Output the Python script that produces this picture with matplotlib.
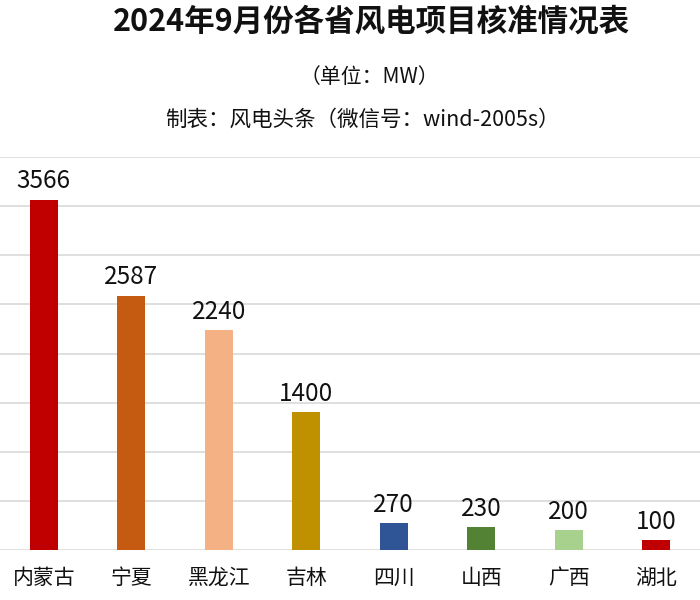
import matplotlib.pyplot as plt

plt.rcParams['font.family'] = ['Noto Sans CJK SC', 'DejaVu Sans']

provinces = ['内蒙古', '宁夏', '黑龙江', '吉林', '四川', '山西', '广西', '湖北']
capacity = [3566, 2587, 2240, 1400, 270, 230, 200, 100]
colors = ['#C00000', '#C55A11', '#F4B183', '#BF9000', '#2F5597', '#548235', '#A9D18E', '#C00000']

fig = plt.figure(figsize=(7, 6), dpi=100)
ax = fig.add_axes([0, 1 - 550 / 600, 1, (550 - 157) / 600])

x = range(len(provinces))
bars = ax.bar(x, capacity, width=0.32, color=colors, zorder=3)
for b, v in zip(bars, capacity):
    ax.text(b.get_x() + b.get_width() / 2, v + 55, str(v), ha='center', va='bottom',
            fontsize=17.5, color='#111111')

ax.set_xlim(-0.5, len(provinces) - 0.5)
ax.set_ylim(0, 4000)
ax.set_yticks(range(0, 4001, 500))
ax.yaxis.grid(True, color='#D9D9D9', linewidth=1.2, zorder=0)
ax.tick_params(axis='y', length=0, labelleft=False)
ax.tick_params(axis='x', length=0, pad=12)
ax.set_xticks(list(x))
ax.set_xticklabels(provinces, fontsize=15, color='#111111')
for s in ax.spines.values():
    s.set_visible(False)

fig.text(0.53, 1 - 22 / 600, '2024年9月份各省风电项目核准情况表', ha='center', va='center',
         fontsize=22, fontweight='bold', color='#111111')
fig.text(0.527, 1 - 77 / 600, '（单位：MW）', ha='center', va='center', fontsize=15, color='#111111')
fig.text(0.518, 1 - 120 / 600, '制表：风电头条（微信号：wind-2005s）', ha='center', va='center',
         fontsize=15.5, color='#111111')

plt.savefig('out.png', dpi=100)
plt.close()
